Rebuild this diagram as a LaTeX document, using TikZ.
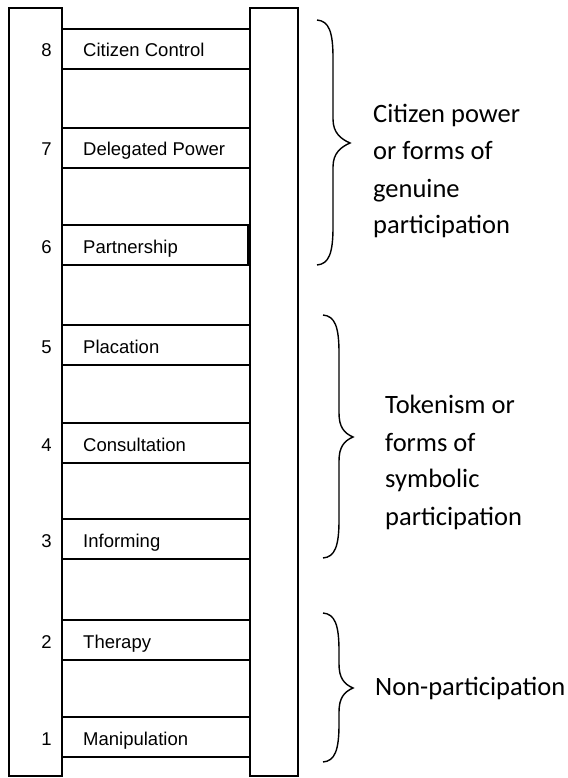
\documentclass[tikz,border=0pt]{standalone}
\usepackage{fontspec}
\setmainfont{Carlito}
\newfontfamily\arialfont{Liberation Sans}
% right curly brace: x of ends, spine, tip; y of top, tip, bottom
\newcommand{\groupbrace}[6]{%
  \draw[bracecurve] (#1,#4)
    .. controls (#2-4,#4+1) and (#2,#4+12) .. (#2,#4+38)
    -- (#2,#5-24)
    .. controls (#2,#5-10) and (#3-9,#5-4) .. (#3,#5)
    .. controls (#3-9,#5+4) and (#2,#5+10) .. (#2,#5+24)
    -- (#2,#6-38)
    .. controls (#2,#6-12) and (#2-4,#6-1) .. (#1,#6);}
\begin{document}
\begin{tikzpicture}[x=1pt,y=-1pt,
  rail/.style={draw=black,line width=1.8pt},
  rungbox/.style={draw=black,line width=1.8pt},
  rungnum/.style={font=\arialfont\fontsize{18.5}{22}\selectfont,inner sep=0pt,anchor=base},
  rungtext/.style={font=\arialfont\fontsize{18.5}{22}\selectfont,inner sep=0pt,anchor=base west},
  bracetext/.style={font=\fontsize{26.5}{37}\selectfont,inner sep=0pt,anchor=base west},
  bracecurve/.style={draw=black,line width=1.4pt}]
\useasboundingbox (0,0) rectangle (567,778);
\fill[white] (0,0) rectangle (567,778);

% ladder rails
\draw[rail] (9,8) rectangle (62,776);
\draw[rail] (250,8) rectangle (298,776);

% rungs: top edge, label, number
\foreach \n/\top/\lab/\right in {
  8/29/Citizen Control/250,
  7/128/Delegated Power/250,
  6/225/Partnership/248,
  5/325/Placation/250,
  4/423/Consultation/250,
  3/519/Informing/250,
  2/620/Therapy/250,
  1/717/Manipulation/250}{
  \draw[rungbox] (62,\top) rectangle (\right,\top+40);
  \node[rungnum] (num\n) at (46.5,\top+28) {\n};
  \node[rungtext] (lab\n) at (83,\top+28) {\lab};
}

% braces grouping the rungs
\groupbrace{317}{333}{350}{20}{143}{265}
\groupbrace{323}{339}{353}{315}{437}{558}
\groupbrace{323}{339}{353}{613}{688}{762}

% group labels
\node[bracetext] (pow1) at (373,123) {Citizen power};
\node[bracetext] (pow2) at (373,160) {or forms of};
\node[bracetext] (pow3) at (373,197) {genuine};
\node[bracetext] (pow4) at (373,233) {participation};

\node[bracetext] (tok1) at (385,413) {Tokenism or};
\node[bracetext] (tok2) at (385,451) {forms of};
\node[bracetext] (tok3) at (385,487) {symbolic};
\node[bracetext] (tok4) at (385,525) {participation};

\node[bracetext] (non1) at (375,695) {Non-participation};
\end{tikzpicture}
\end{document}
